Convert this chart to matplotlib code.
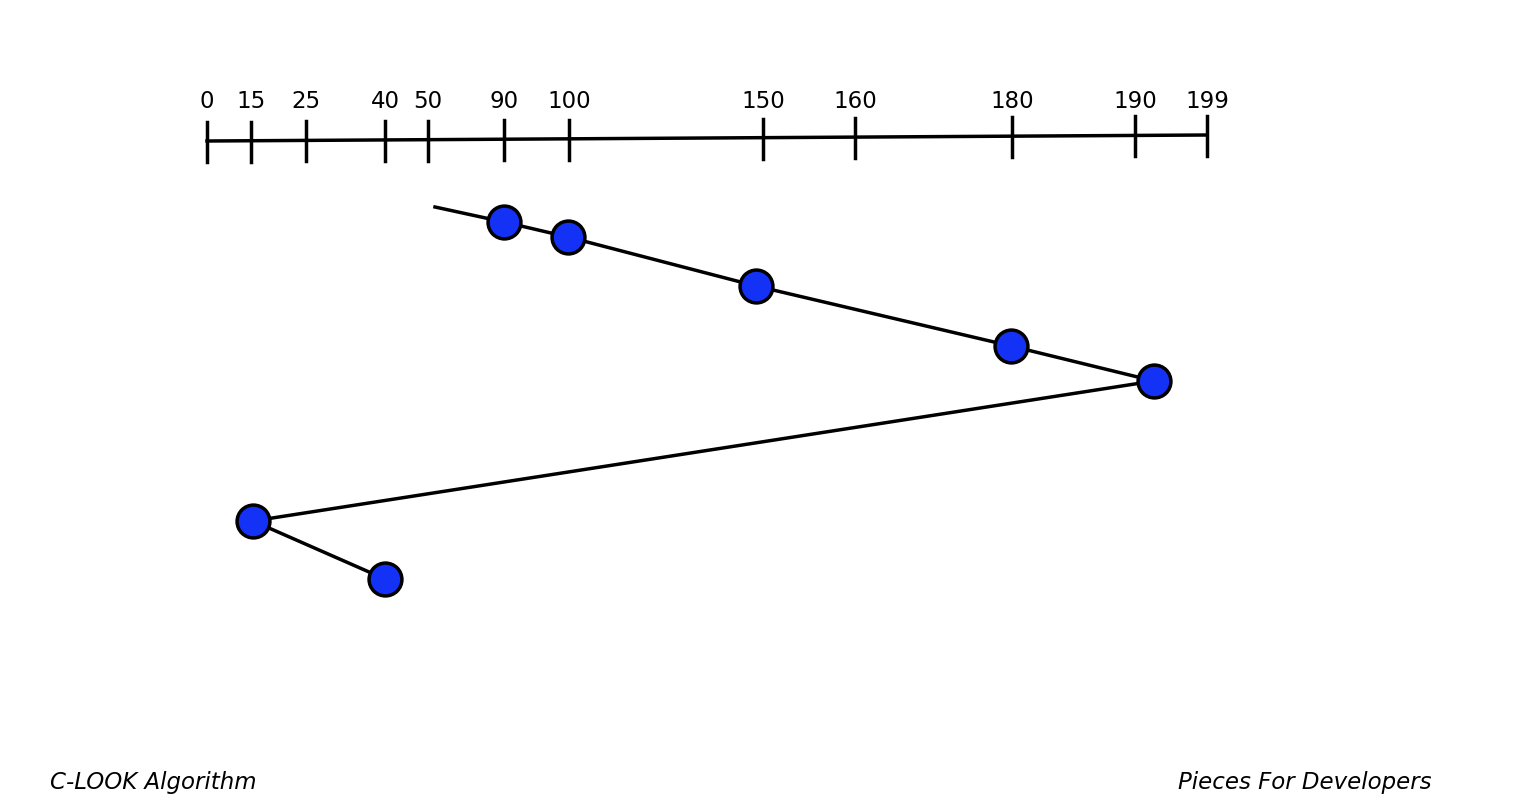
import matplotlib.pyplot as plt
import numpy as np

# disk track labels on the drawn scale and where they sit along it (pixels)
tick_values = [0, 15, 25, 40, 50, 90, 100, 150, 160, 180, 190, 199]
tick_pos = [207, 251, 306, 385, 428, 504, 569, 763, 855, 1012, 1135, 1207]

# head path: start at 50, then service order
start_track = 50
requests = [90, 100, 150, 180, 190, 15, 40]
step_y = [207, 222, 237, 286, 346, 381, 521, 579]  # vertical position of each step

# the drawn scale is not linear, the service points sit slightly off the labels
point_pos = [504, 568, 756, 1011, 1154, 253, 385]

fig = plt.figure(figsize=(15.2, 8.11), dpi=100)
ax = fig.add_axes([0, 0, 1, 1])
ax.set_xlim(0, 1520)
ax.set_ylim(811, 0)
ax.axis('off')

# scale line with ticks
ax.plot([tick_pos[0], tick_pos[-1]], [141, 135], color='black', lw=2.5)
for v, p in zip(tick_values, tick_pos):
    yy = 141 - 6 * (p - tick_pos[0]) / (tick_pos[-1] - tick_pos[0])
    ax.plot([p, p], [yy - 19, yy + 21], color='black', lw=2.5)
    ax.text(p, 102, str(v), ha='center', va='center', fontsize=16.5)

# head movement
xs = [435] + point_pos
ax.plot(xs, step_y, color='black', lw=2.5, zorder=1)
ax.scatter(point_pos, step_y[1:], s=560, color='#1432f5', edgecolor='black',
           linewidth=2.5, zorder=2)

ax.text(50, 783, 'C-LOOK Algorithm', fontsize=16.5, style='italic', va='center')
ax.text(1432, 783, 'Pieces For Developers', fontsize=16.5, style='italic',
        va='center', ha='right')

fig.savefig('out.png', dpi=100)
